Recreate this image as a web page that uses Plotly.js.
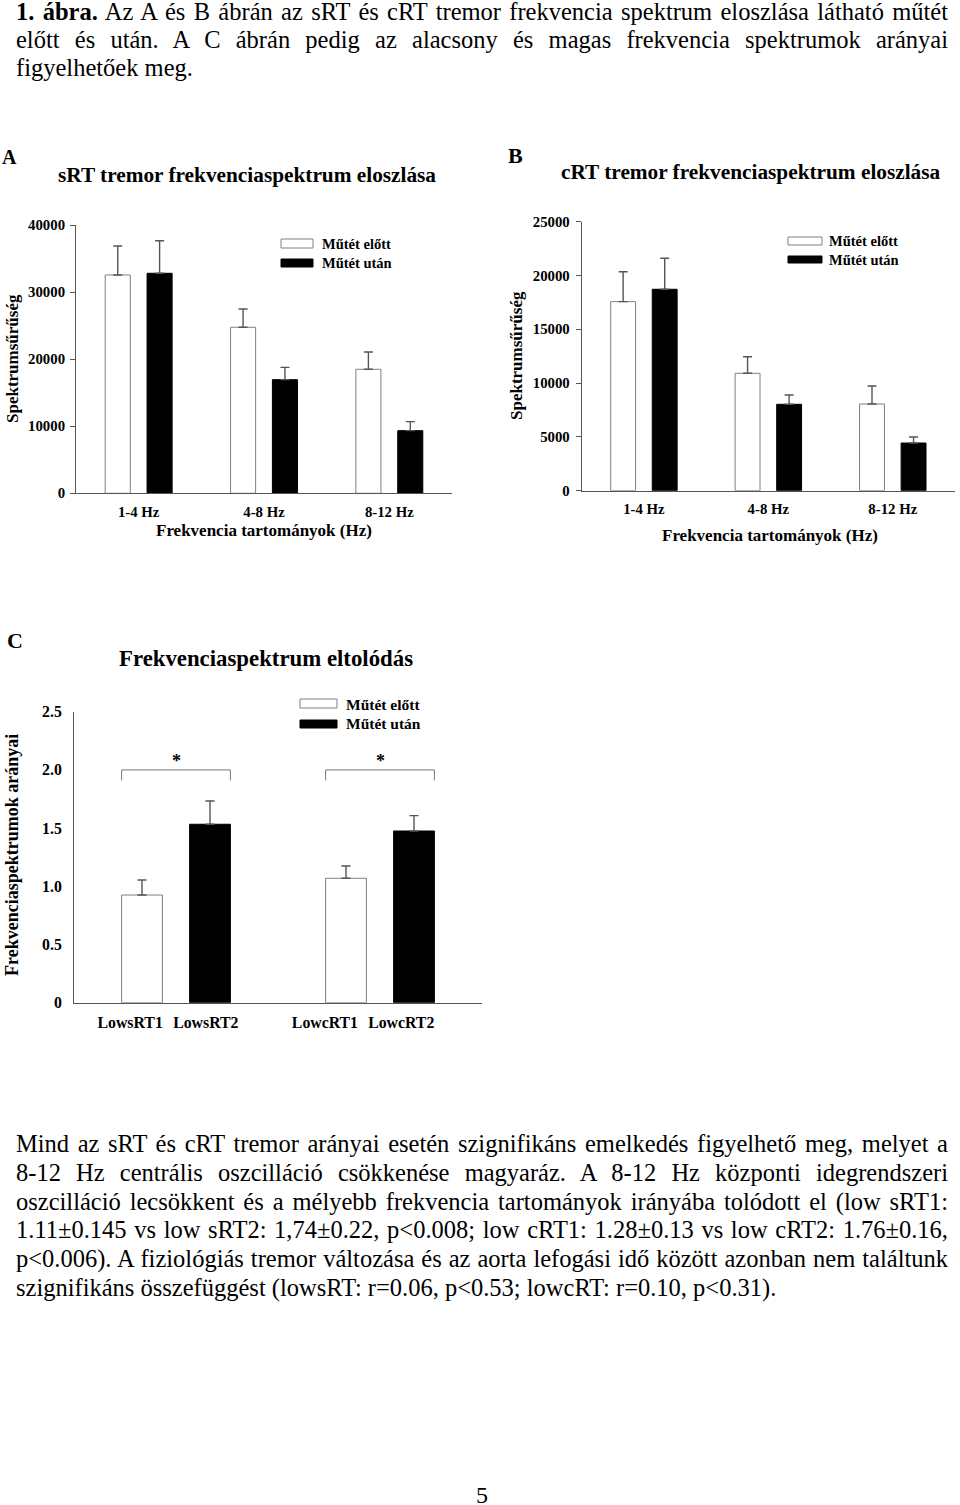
<!DOCTYPE html>
<html>
<head>
<meta charset="utf-8">
<script src="https://cdn.plot.ly/plotly-3.0.1.min.js"></script>
<style>
  html, body { margin: 0; padding: 0; background: #fff; }
  body { width: 960px; height: 1505px; position: relative; overflow: hidden; }
  #plot { position: absolute; left: 0; top: 0; width: 960px; height: 1505px; }
  .txt { position: absolute; font-family: "Liberation Serif", "Times New Roman", serif; color: #000; z-index: 2; }
  .ln { display: block; text-align: justify; text-align-last: justify; }
  .ln.last { text-align-last: left; }
  #hdr { left: 16px; top: -2px; width: 932px; font-size: 24.5px; line-height: 28px; }
  #para { left: 16px; top: 1130px; width: 932px; font-size: 24.5px; line-height: 28.8px; }
  #pnum { left: 0; top: 1481px; width: 964px; font-size: 24px; line-height: 28px; text-align: center; }
</style>
</head>
<body>
<div id="plot"></div>
<div class="txt" id="hdr">
  <div class="ln"><b>1. ábra.</b> Az A és B ábrán az sRT és cRT tremor frekvencia spektrum eloszlása látható műtét</div>
  <div class="ln">előtt és után. A C ábrán pedig az alacsony és magas frekvencia spektrumok arányai</div>
  <div class="ln last">figyelhetőek meg.</div>
</div>
<div class="txt" id="para">
  <div class="ln">Mind az sRT és cRT tremor arányai esetén szignifikáns emelkedés figyelhető meg, melyet a</div>
  <div class="ln">8-12 Hz centrális oszcilláció csökkenése magyaráz. A 8-12 Hz központi idegrendszeri</div>
  <div class="ln">oszcilláció lecsökkent és a mélyebb frekvencia tartományok irányába tolódott el (low sRT1:</div>
  <div class="ln">1.11±0.145 vs low sRT2: 1,74±0.22, p&lt;0.008; low cRT1: 1.28±0.13 vs low cRT2: 1.76±0.16,</div>
  <div class="ln">p&lt;0.006). A fiziológiás tremor változása és az aorta lefogási idő között azonban nem találtunk</div>
  <div class="ln last">szignifikáns összefüggést (lowsRT: r=0.06, p&lt;0.53; lowcRT: r=0.10, p&lt;0.31).</div>
</div>
<div class="txt" id="pnum">5</div>
<script>
// ---------------- DATA ----------------
const SERIES_NAMES = ['Műtét előtt', 'Műtét után'];
const FREQ_BANDS = ['1-4 Hz', '4-8 Hz', '8-12 Hz'];

// Panel A: sRT
const SRT_BEFORE = [32550, 24750, 18490];
const SRT_BEFORE_ERR = [4320, 2730, 2580];
const SRT_AFTER = [32800, 16940, 9340];
const SRT_AFTER_ERR = [4860, 1840, 1340];
const A_YTICKS = [0, 10000, 20000, 30000, 40000];

// Panel B: cRT
const CRT_BEFORE = [17570, 10910, 8060];
const CRT_BEFORE_ERR = [2780, 1540, 1670];
const CRT_AFTER = [18720, 8030, 4430];
const CRT_AFTER_ERR = [2880, 860, 560];
const B_YTICKS = [0, 5000, 10000, 15000, 20000, 25000];

// Panel C: ratios
const C_SLOTS = ['LowsRT1', 'LowsRT2', null, 'LowcRT1', 'LowcRT2'];
const RATIO_LABELS_BEFORE = ['LowsRT1', 'LowcRT1'];
const RATIO_LABELS_AFTER = ['LowsRT2', 'LowcRT2'];
const RATIO_BEFORE = [0.925, 1.069];
const RATIO_BEFORE_ERR = [0.129, 0.105];
const RATIO_AFTER = [1.533, 1.475];
const RATIO_AFTER_ERR = [0.200, 0.132];
const C_YTICKS = [0, 0.5, 1.0, 1.5, 2.0, 2.5];
const C_YTICKTEXT = ['0', '0.5', '1.0', '1.5', '2.0', '2.5'];
const C_YMARKS = [0, 1, 2, 3, 4, 5, 6];       // tick marks in sixths of the axis
const SIG_PAIRS = [['LowsRT1', 'LowsRT2'], ['LowcRT1', 'LowcRT2']];
const SIG_LABEL = '*';

// ---------------- STYLE ----------------
const FONT = '"Liberation Serif", "Times New Roman", serif';
const AXC = '#555';
const OUTLINE = '#808080';
const W = 960, H = 1505;
const px = v => v / W;
const py = v => 1 - v / H;

const errStyle = (arr) => ({
  type: 'data', symmetric: false, array: arr, arrayminus: arr.map(() => 0),
  color: '#555', thickness: 1.4, width: 4.5, visible: true
});

function bandTraces(before, beforeErr, after, afterErr, xa, ya) {
  return [
    { type: 'bar', x: FREQ_BANDS, y: before, name: SERIES_NAMES[0], xaxis: xa, yaxis: ya,
      width: 0.2, offset: -0.267,
      marker: { color: '#fff', line: { color: OUTLINE, width: 1 } },
      error_y: errStyle(beforeErr), hoverinfo: 'y', showlegend: false },
    { type: 'bar', x: FREQ_BANDS, y: after, name: SERIES_NAMES[1], xaxis: xa, yaxis: ya,
      width: 0.2, offset: 0.067,
      marker: { color: '#000', line: { color: '#000', width: 1 } },
      error_y: errStyle(afterErr), hoverinfo: 'y', showlegend: false }
  ];
}

const slotPos = lab => C_SLOTS.indexOf(lab);
const C_BW = 0.6;
// label placement nudges (slot units) for the C category labels, in C_SLOTS order (non-null)
const C_LABEL_NUDGE = [-0.174, -0.062, -0.31, -0.188];

const traces = [
  ...bandTraces(SRT_BEFORE, SRT_BEFORE_ERR, SRT_AFTER, SRT_AFTER_ERR, 'x', 'y'),
  ...bandTraces(CRT_BEFORE, CRT_BEFORE_ERR, CRT_AFTER, CRT_AFTER_ERR, 'x2', 'y2'),
  { type: 'bar', x: RATIO_LABELS_BEFORE.map(slotPos), y: RATIO_BEFORE, name: SERIES_NAMES[0],
    xaxis: 'x3', yaxis: 'y3', width: C_BW, offset: -C_BW / 2,
    marker: { color: '#fff', line: { color: OUTLINE, width: 1 } },
    error_y: errStyle(RATIO_BEFORE_ERR), hoverinfo: 'y', showlegend: false },
  { type: 'bar', x: RATIO_LABELS_AFTER.map(slotPos), y: RATIO_AFTER, name: SERIES_NAMES[1],
    xaxis: 'x3', yaxis: 'y3', width: C_BW, offset: -C_BW / 2,
    marker: { color: '#000', line: { color: '#000', width: 1 } },
    error_y: errStyle(RATIO_AFTER_ERR), hoverinfo: 'y', showlegend: false }
];

// significance brackets
const BR_TOP = 2.0, BR_FOOT = 1.91, STAR_Y = 2.075;
SIG_PAIRS.forEach(([a, b]) => {
  const L = slotPos(a) - C_BW / 2, R = slotPos(b) + C_BW / 2;
  traces.push({ type: 'scatter', mode: 'lines', x: [L, L, R, R], y: [BR_FOOT, BR_TOP, BR_TOP, BR_FOOT],
    xaxis: 'x3', yaxis: 'y3', line: { color: '#777', width: 1 }, hoverinfo: 'skip', showlegend: false });
});

const tickFontAB = { family: FONT, size: 14.8, color: '#000', weight: 'bold' };
const tickFontC = { family: FONT, size: 15.8, color: '#000', weight: 'bold' };

function xAx(d0, d1, anchor, extra) {
  return Object.assign({ domain: [px(d0), px(d1)], anchor: anchor, showline: true, linecolor: AXC, linewidth: 1,
    ticks: '', tickangle: 0, showgrid: false, zeroline: false, fixedrange: true, tickfont: tickFontAB, ticklabelstandoff: 5 }, extra);
}
function yAx(t0, t1, anchor, extra) {
  return Object.assign({ domain: [py(t1), py(t0)], anchor: anchor, showline: true, linecolor: AXC, linewidth: 1,
    ticks: 'outside', ticklen: 5, tickcolor: AXC, tickwidth: 1, showgrid: false, zeroline: false, fixedrange: true,
    tickfont: tickFontAB, ticklabelstandoff: 2 }, extra);
}

const cRange = [-1, C_SLOTS.length];
const cLabelIdx = C_SLOTS.map((l, i) => i).filter(i => C_SLOTS[i] !== null);
const layout = {
  width: W, height: H, margin: { l: 0, r: 0, t: 0, b: 0 }, autosize: false,
  paper_bgcolor: 'rgba(0,0,0,0)', plot_bgcolor: 'rgba(0,0,0,0)', showlegend: false,
  font: { family: FONT, color: '#000' },
  xaxis: xAx(76, 452, 'y', { type: 'category', range: [-0.5, 2.5] }),
  yaxis: yAx(225, 493.3, 'x', { range: [0, A_YTICKS[A_YTICKS.length - 1]], tickvals: A_YTICKS, ticktext: A_YTICKS.map(String) }),
  xaxis2: xAx(581.7, 955, 'y2', { type: 'category', range: [-0.5, 2.5] }),
  yaxis2: yAx(221.7, 490.7, 'x2', { range: [0, B_YTICKS[B_YTICKS.length - 1]], tickvals: B_YTICKS, ticktext: B_YTICKS.map(String), ticklabelstandoff: 3 }),
  xaxis3: xAx(74, 482, 'y3', { type: 'linear', range: cRange, tickfont: tickFontC, ticklabelstandoff: 5,
    tickvals: cLabelIdx.map((i, k) => i + C_LABEL_NUDGE[k]),
    ticktext: cLabelIdx.map(i => C_SLOTS[i]) }),
  yaxis3: yAx(711.7, 1002.7, 'x3', { range: [0, 2.5], tickvals: C_YTICKS, ticktext: C_YTICKTEXT, ticks: '',
    tickfont: tickFontC, ticklabelstandoff: 8 }),
  yaxis4: { overlaying: 'y3', anchor: 'x3', side: 'left', range: [0, 2.5], showline: false, showgrid: false, zeroline: false,
    ticks: 'outside', ticklen: 5, tickcolor: AXC, tickwidth: 1, showticklabels: false, fixedrange: true,
    tickvals: C_YMARKS.map(k => k * 2.5 / (C_YMARKS.length - 1)) },
  shapes: [],
  annotations: []
};

function ann(text, x, y, size, opts) {
  layout.annotations.push(Object.assign({ text: text, x: px(x), y: py(y), xref: 'paper', yref: 'paper',
    showarrow: false, xanchor: 'center', yanchor: 'middle',
    font: { family: FONT, size: size, color: '#000', weight: 'bold' } }, opts || {}));
}

// panel letters and titles
ann('A', 9, 157, 20);
ann('B', 515, 155, 22);
ann('C', 15, 640, 22);
ann('sRT tremor frekvenciaspektrum eloszlása', 247, 175, 21.3);
ann('cRT tremor frekvenciaspektrum eloszlása', 751, 172, 21.3);
ann('Frekvenciaspektrum eltolódás', 266, 658, 22.8);
// axis titles
ann('Spektrumsűrűség', 12, 359, 17, { textangle: -90 });
ann('Spektrumsűrűség', 517, 356, 17, { textangle: -90 });
ann('Frekvenciaspektrumok arányai', 12, 855, 18, { textangle: -90 });
ann('Frekvencia tartományok (Hz)', 264, 530, 17);
ann('Frekvencia tartományok (Hz)', 770, 535, 17);

// legends
function legend(x0, x1, yW0, yW1, yB0, yB1, tx, tyW, tyB, size) {
  layout.shapes.push({ type: 'rect', xref: 'paper', yref: 'paper', x0: px(x0), x1: px(x1), y0: py(yW1), y1: py(yW0),
    fillcolor: '#fff', line: { color: OUTLINE, width: 1 } });
  layout.shapes.push({ type: 'rect', xref: 'paper', yref: 'paper', x0: px(x0), x1: px(x1), y0: py(yB1), y1: py(yB0),
    fillcolor: '#000', line: { color: '#000', width: 1 } });
  ann(SERIES_NAMES[0], tx, tyW, size, { xanchor: 'left' });
  ann(SERIES_NAMES[1], tx, tyB, size, { xanchor: 'left' });
}
legend(281, 313, 239, 248, 259, 267, 320, 244, 263, 14.5);
legend(788, 822, 237, 245, 256, 263, 827, 241, 260, 14.5);
legend(300, 337, 699, 708, 720, 728, 344, 704, 724, 15.5);

// significance stars
SIG_PAIRS.forEach(([a, b]) => {
  layout.annotations.push({ text: SIG_LABEL, xref: 'x3', yref: 'y3', x: (slotPos(a) + slotPos(b)) / 2, y: STAR_Y,
    showarrow: false, xanchor: 'center', yanchor: 'middle', font: { family: FONT, size: 18, color: '#000', weight: 'bold' } });
});

Plotly.newPlot('plot', traces, layout, { staticPlot: true, displayModeBar: false });
</script>
</body>
</html>
